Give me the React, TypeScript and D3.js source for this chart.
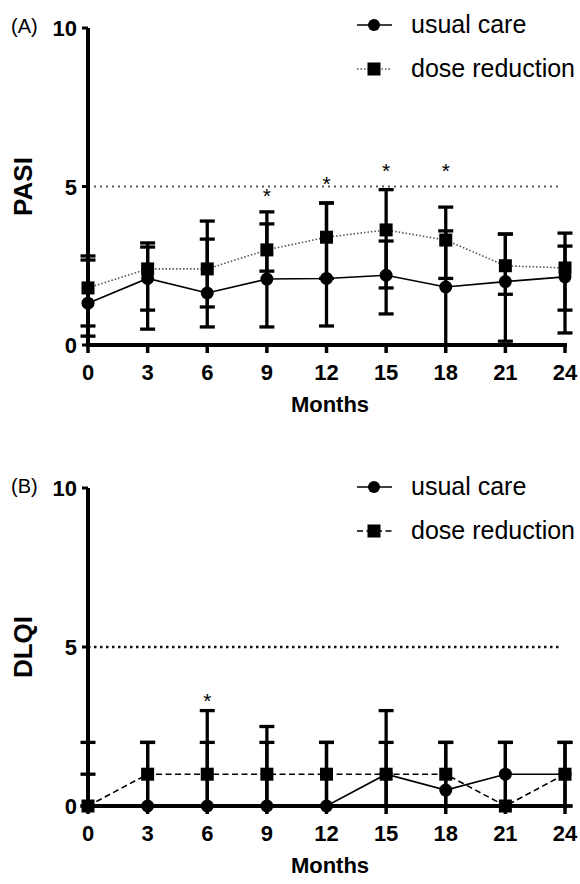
import React from "react";
import * as d3 from "d3";

const months = [0, 3, 6, 9, 12, 15, 18, 21, 24];
const yTicks = [0, 5, 10];

// Panel A: PASI
const pasiUsual = [1.32, 2.1, 1.64, 2.08, 2.1, 2.2, 1.83, 2.0, 2.15];
const pasiUsualLo = [0.28, 0.5, 0.57, 0.57, 0.6, 0.98, 0.0, 0.12, 0.38];
const pasiUsualHi = [2.68, 3.09, 3.34, 3.82, 4.48, 3.28, 3.6, 3.5, 3.53];
const pasiDose = [1.8, 2.4, 2.4, 3.0, 3.4, 3.63, 3.31, 2.5, 2.43];
const pasiDoseLo = [0.6, 1.1, 1.2, 2.33, 2.1, 1.8, 2.1, 1.6, 1.1];
const pasiDoseHi = [2.81, 3.22, 3.91, 4.2, 4.48, 4.9, 4.35, 3.5, 3.12];
const pasiStars = [
  { m: 9, v: 4.83 },
  { m: 12, v: 5.2 },
  { m: 15, v: 5.61 },
  { m: 18, v: 5.61 },
];

// Panel B: DLQI
const dlqiUsual = [0, 0, 0, 0, 0, 1, 0.5, 1, 1];
const dlqiUsualLo = [0, 0, 0, 0, 0, 0, 0, 0, 0];
const dlqiUsualHi = [2, 2, 2, 2, 2, 2, 2, 2, 2];
const dlqiDose = [0, 1, 1, 1, 1, 1, 1, 0, 1];
const dlqiDoseLo = [0, 0, 0, 0, 0, 0, 0, 0, 0];
const dlqiDoseHi = [1, 2, 3, 2.5, 2, 3, 2, 2, 2];
const dlqiStars = [{ m: 6, v: 3.43 }];

const FONT = "'Liberation Sans', Arial, Helvetica, sans-serif";

type PanelProps = {
  top: number;
  bottom: number;
  tag: string;
  yLabel: string;
  usual: number[];
  usualLo: number[];
  usualHi: number[];
  dose: number[];
  doseLo: number[];
  doseHi: number[];
  stars: { m: number; v: number }[];
  doseDash: string;
  doseColor: string;
  refColor: string;
  refDash: string;
  refWidth: number;
  legendY: number;
};

function Panel(p: PanelProps) {
  const x = d3.scaleLinear().domain([0, 24]).range([88, 565]);
  const y = d3.scaleLinear().domain([0, 10]).range([p.bottom, p.top]);
  const line = (vals: number[]) =>
    d3
      .line<number>()
      .x((_, i) => x(months[i]))
      .y((v) => y(v))(vals) || "";
  const capW = 7.5;
  const bars = (vals: number[], lo: number[], hi: number[], key: string) =>
    months.map((m, i) => (
      <g key={key + i} stroke="#000" strokeWidth={3.3}>
        <line x1={x(m)} x2={x(m)} y1={y(lo[i])} y2={y(hi[i])} />
        <line x1={x(m) - capW} x2={x(m) + capW} y1={y(hi[i])} y2={y(hi[i])} />
        <line x1={x(m) - capW} x2={x(m) + capW} y1={y(lo[i])} y2={y(lo[i])} />
      </g>
    ));
  const lx1 = 357;
  const lx2 = 392;
  const lmx = 374;
  const row1 = p.legendY;
  const row2 = p.legendY + 44;
  return (
    <g>
      <text x={11} y={p.top + 5} fontFamily={FONT} fontSize={20}>
        {p.tag}
      </text>
      <text
        transform={`translate(32,${y(5)}) rotate(-90)`}
        textAnchor="middle"
        fontFamily={FONT}
        fontSize={26}
        fontWeight="bold"
      >
        {p.yLabel}
      </text>
      {/* reference line at 5 */}
      <line
        x1={x(0)}
        x2={562}
        y1={y(5)}
        y2={y(5)}
        stroke={p.refColor}
        strokeWidth={p.refWidth}
        strokeDasharray={p.refDash}
      />
      {bars(p.usual, p.usualLo, p.usualHi, "u")}
      {bars(p.dose, p.doseLo, p.doseHi, "d")}
      {/* axes */}
      <line x1={x(0)} x2={x(0)} y1={y(10)} y2={y(0) + 2} stroke="#000" strokeWidth={4} />
      <line x1={x(0) - 2} x2={x(24) + 2} y1={y(0)} y2={y(0)} stroke="#000" strokeWidth={4} />
      {yTicks.map((t) => (
        <g key={"yt" + t}>
          <line x1={x(0) - 6} x2={x(0)} y1={y(t)} y2={y(t)} stroke="#000" strokeWidth={3} />
          <text
            x={77}
            y={y(t) + 8}
            textAnchor="end"
            fontFamily={FONT}
            fontSize={22}
            fontWeight="bold"
          >
            {t}
          </text>
        </g>
      ))}
      {months.map((m) => (
        <g key={"xt" + m}>
          <line x1={x(m)} x2={x(m)} y1={y(0)} y2={y(0) + 8} stroke="#000" strokeWidth={3.5} />
          <text
            x={x(m)}
            y={y(0) + 35}
            textAnchor="middle"
            fontFamily={FONT}
            fontSize={22}
            fontWeight="bold"
          >
            {m}
          </text>
        </g>
      ))}
      <text
        x={330}
        y={y(0) + 67}
        textAnchor="middle"
        fontFamily={FONT}
        fontSize={22}
        fontWeight="bold"
      >
        Months
      </text>
      {/* series lines */}
      <path d={line(p.usual)} fill="none" stroke="#000" strokeWidth={1.6} />
      <path
        d={line(p.dose)}
        fill="none"
        stroke={p.doseColor}
        strokeWidth={1.6}
        strokeDasharray={p.doseDash}
      />
      {/* markers */}
      {months.map((m, i) => (
        <circle key={"c" + m} cx={x(m)} cy={y(p.usual[i])} r={6.5} fill="#000" />
      ))}
      {months.map((m, i) => (
        <rect
          key={"s" + m}
          x={x(m) - 6.5}
          y={y(p.dose[i]) - 6.5}
          width={13}
          height={13}
          fill="#000"
        />
      ))}
      {/* significance stars */}
      {p.stars.map((s) => (
        <text
          key={"st" + s.m}
          x={x(s.m)}
          y={y(s.v) + 11}
          textAnchor="middle"
          fontFamily={FONT}
          fontSize={21}
        >
          *
        </text>
      ))}
      {/* legend */}
      <line x1={lx1} x2={lx2} y1={row1} y2={row1} stroke="#000" strokeWidth={1.6} />
      <circle cx={lmx} cy={row1} r={6} fill="#000" />
      <text x={411} y={row1 + 8} fontFamily={FONT} fontSize={25}>
        usual care
      </text>
      <line
        x1={lx1}
        x2={lx2}
        y1={row2}
        y2={row2}
        stroke={p.doseColor}
        strokeWidth={1.6}
        strokeDasharray={p.doseDash}
      />
      <rect x={lmx - 6.5} y={row2 - 6.5} width={13} height={13} fill="#000" />
      <text x={411} y={row2 + 8} fontFamily={FONT} fontSize={25}>
        dose reduction
      </text>
    </g>
  );
}

export default function App() {
  return (
    <svg
      width={580}
      height={884}
      viewBox="0 0 580 884"
      style={{ position: "absolute", left: 0, top: 0, background: "#fff" }}
    >
      <rect width={580} height={884} fill="#fff" />
      <Panel
        top={28}
        bottom={345}
        tag="(A)"
        yLabel="PASI"
        usual={pasiUsual}
        usualLo={pasiUsualLo}
        usualHi={pasiUsualHi}
        dose={pasiDose}
        doseLo={pasiDoseLo}
        doseHi={pasiDoseHi}
        stars={pasiStars}
        doseDash="1.5,2"
        doseColor="#555"
        refColor="#555"
        refDash="2,4"
        refWidth={2}
        legendY={25}
      />
      <Panel
        top={488}
        bottom={806}
        tag="(B)"
        yLabel="DLQI"
        usual={dlqiUsual}
        usualLo={dlqiUsualLo}
        usualHi={dlqiUsualHi}
        dose={dlqiDose}
        doseLo={dlqiDoseLo}
        doseHi={dlqiDoseHi}
        stars={dlqiStars}
        doseDash="6,3.5"
        doseColor="#000"
        refColor="#111"
        refDash="2.5,3.5"
        refWidth={2.5}
        legendY={487}
      />
    </svg>
  );
}
